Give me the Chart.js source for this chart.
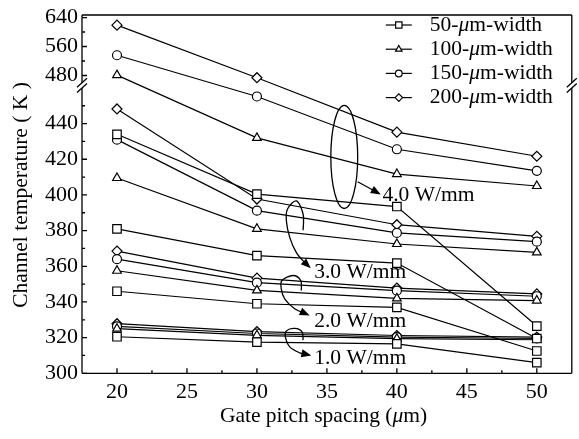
<!DOCTYPE html>
<html><head><meta charset="utf-8">
<script src="https://cdn.jsdelivr.net/npm/chart.js@4/dist/chart.umd.min.js"></script>
<style>html,body{margin:0;padding:0;background:#fff;overflow:hidden}</style>
</head><body>
<canvas id="c" width="579" height="439" style="display:block;width:579px;height:439px"></canvas>
<script>
// ---------------- data ----------------
const pitchSpacing = [20, 30, 40, 50];
const powerLevels = ['4.0 W/mm', '3.0 W/mm', '2.0 W/mm', '1.0 W/mm'];
const widthLabels = ['50', '100', '150', '200'];
// rows: 4.0, 3.0, 2.0, 1.0 W/mm ; columns: pitch 20, 30, 40, 50 um
const temp50um = [
  [434, 400.5, 393.5, 326.5],
  [381, 366, 361.8, 319.5],
  [346, 339, 337, 312.5],
  [320.5, 317.5, 316.5, 306]
];
const temp100um = [
  [481, 432, 411.7, 405],
  [409.5, 381, 372.5, 367.8],
  [357.5, 346.5, 342, 340.8],
  [325, 321.3, 319.4, 318.8]
];
const temp150um = [
  [535.9, 455.2, 425.6, 413.5],
  [431, 391.2, 378.7, 373.8],
  [364, 350.8, 346.3, 343.2],
  [326.3, 322.3, 320.3, 319.5]
];
const temp200um = [
  [619, 473.8, 435.2, 421.7],
  [448.2, 397.7, 383.3, 376.8],
  [368.5, 353.4, 347.8, 344.5],
  [327.8, 323.4, 321.2, 320.3]
];
const yMajorTicks = [300, 320, 340, 360, 380, 400, 420, 440, 480, 560, 640];
const yMinorTicks = [310, 330, 350, 370, 390, 410, 430, 450, 520, 600];
const xMajorTicks = [20, 25, 30, 35, 40, 45, 50];
const xMinorTicks = [22.5, 27.5, 32.5, 37.5, 42.5, 47.5];

// ---------------- styling ----------------
const FONT = '"Liberation Serif", "Times New Roman", serif';
const yBreak = { lowMin: 300, lowMax: 460, highMin: 460, highMax: 647, lowFrac: 0.7965, highFrac: 0.811 };
const markerStyles = [
  { pointStyle: 'rect', radius: 6 },
  { pointStyle: 'triangle', radius: 5 },
  { pointStyle: 'circle', radius: 4.5 },
  { pointStyle: 'rectRot', radius: 5 }
];
const seriesTemps = [temp50um, temp100um, temp150um, temp200um];

// annotations (anchored in data units; shapes in pixel offsets)
const ellipse40 = { xMin: 35.28, xMax: 37.2, yMin: 392.4, yMax: 450.2 };
const arrow40 = { from: [37.2, 407.4], to: [38.85, 400.3] };
const powerTextAnchors = [[38.97, 396.8], [34.09, 353.2], [34.09, 326], [34.09, 305.2]];
const hookTips = [null, [33.85, 358.9], [33.77, 332.4], [33.89, 310]];
const hookShapes = [null,
  [[-7.7,-38],[-7.7,-54],[-14.4,-67.3],[-23.4,-59],[-24.4,-47.3],[-21,-30.6],[-14.4,-15.6],[-6,-5.6],[0,0]],
  [[-8.4,-25],[-9,-35],[-16.7,-40],[-27.7,-35],[-28.4,-26.7],[-25,-16.7],[-15,-6.7],[0,0]],
  [[-8.3,-15.3],[-9.3,-23.6],[-16.6,-27],[-25,-24.6],[-26,-18.6],[-21.6,-8.6],[-11.6,-2.6],[0,0]]
];

// ---------------- broken y scale ----------------
class BrokenLinearScale extends Chart.LinearScale {
  getPixelForValue(value) {
    if (value === null || value === undefined || isNaN(value)) return NaN;
    const b = yBreak;
    let dec;
    if (value <= b.lowMax) dec = (value - b.lowMin) / (b.lowMax - b.lowMin) * b.lowFrac;
    else dec = b.highFrac + (value - b.highMin) / (b.highMax - b.highMin) * (1 - b.highFrac);
    return this.getPixelForDecimal(dec);
  }
  getValueForPixel(pixel) {
    const b = yBreak;
    const dec = this.getDecimalForPixel(pixel);
    if (dec <= b.lowFrac) return b.lowMin + dec / b.lowFrac * (b.lowMax - b.lowMin);
    return b.highMin + (dec - b.highFrac) / (1 - b.highFrac) * (b.highMax - b.highMin);
  }
  buildTicks() { return yMajorTicks.map(v => ({ value: v })); }
}
BrokenLinearScale.id = 'brokenLinear';
BrokenLinearScale.defaults = Chart.LinearScale.defaults;
Chart.register(BrokenLinearScale);

// ---------------- datasets ----------------
const datasets = [];
seriesTemps.forEach((rows, wi) => {
  rows.forEach((vals, pi) => {
    datasets.push({
      label: widthLabels[wi] + '-μm-width',
      data: pitchSpacing.map((x, i) => ({ x: x, y: vals[i] })),
      borderColor: '#000', borderWidth: 1.2,
      pointStyle: markerStyles[wi].pointStyle,
      pointRadius: markerStyles[wi].radius,
      pointHoverRadius: markerStyles[wi].radius,
      pointBackgroundColor: '#fff', pointBorderColor: '#000', pointBorderWidth: 1.2,
      tension: 0, fill: false
    });
  });
});

function drawRuns(ctx, runs, x, y, size, align) {
  const fontOf = r => (r.italic ? 'italic ' : '') + size + 'px ' + FONT;
  let total = 0;
  runs.forEach(r => { ctx.font = fontOf(r); total += ctx.measureText(r.t).width; });
  let cx = align === 'center' ? x - total / 2 : x;
  ctx.textAlign = 'left';
  runs.forEach(r => { ctx.font = fontOf(r); ctx.fillText(r.t, cx, y); cx += ctx.measureText(r.t).width; });
}

function smoothPath(ctx, pts) {
  ctx.moveTo(pts[0][0], pts[0][1]);
  for (let i = 0; i < pts.length - 1; i++) {
    const p0 = pts[Math.max(i - 1, 0)], p1 = pts[i], p2 = pts[i + 1], p3 = pts[Math.min(i + 2, pts.length - 1)];
    const c1 = [p1[0] + (p2[0] - p0[0]) / 6, p1[1] + (p2[1] - p0[1]) / 6];
    const c2 = [p2[0] - (p3[0] - p1[0]) / 6, p2[1] - (p3[1] - p1[1]) / 6];
    ctx.bezierCurveTo(c1[0], c1[1], c2[0], c2[1], p2[0], p2[1]);
  }
}
function arrowHead(ctx, fx, fy, tx, ty) {
  const a = Math.atan2(ty - fy, tx - fx), L = 10, W = 4;
  ctx.beginPath();
  ctx.moveTo(tx, ty);
  ctx.lineTo(tx - L * Math.cos(a) + W * Math.sin(a), ty - L * Math.sin(a) - W * Math.cos(a));
  ctx.lineTo(tx - L * Math.cos(a) - W * Math.sin(a), ty - L * Math.sin(a) + W * Math.cos(a));
  ctx.closePath(); ctx.fill();
}

const decor = {
  id: 'decor',
  afterDatasetsDraw(chart) {
    const ctx = chart.ctx, ca = chart.chartArea;
    const xs = chart.scales.x, ys = chart.scales.y;
    ctx.save();
    ctx.strokeStyle = '#000'; ctx.fillStyle = '#000'; ctx.lineWidth = 1.3;
    const yLowTop = ys.getPixelForValue(yBreak.lowMax);          // lower segment end
    const yHighBot = ys.getPixelForDecimal(yBreak.highFrac);     // upper segment start
    // frame
    ctx.beginPath();
    ctx.moveTo(ca.left, ca.bottom); ctx.lineTo(ca.right, ca.bottom);
    ctx.moveTo(ca.left, ca.top); ctx.lineTo(ca.right, ca.top);
    [ca.left, ca.right].forEach(x => {
      ctx.moveTo(x, ca.bottom); ctx.lineTo(x, yLowTop);
      ctx.moveTo(x, yHighBot); ctx.lineTo(x, ca.top);
    });
    ctx.stroke();
    // break marks
    ctx.beginPath();
    [ca.left, ca.right].forEach(x => {
      [yHighBot, yLowTop].forEach(y => { ctx.moveTo(x - 5, y + 4.5); ctx.lineTo(x + 5, y - 4.5); });
    });
    ctx.stroke();
    // ticks (inward)
    ctx.beginPath();
    yMajorTicks.forEach(v => { const y = ys.getPixelForValue(v); ctx.moveTo(ca.left, y); ctx.lineTo(ca.left + 5, y); });
    yMinorTicks.forEach(v => { const y = ys.getPixelForValue(v); ctx.moveTo(ca.left, y); ctx.lineTo(ca.left + 3, y); });
    xMajorTicks.forEach(v => { const x = xs.getPixelForValue(v); ctx.moveTo(x, ca.bottom); ctx.lineTo(x, ca.bottom - 5); });
    xMinorTicks.forEach(v => { const x = xs.getPixelForValue(v); ctx.moveTo(x, ca.bottom); ctx.lineTo(x, ca.bottom - 3); });
    ctx.stroke();

    // ellipse + arrow for 4.0 W/mm
    const ex1 = xs.getPixelForValue(ellipse40.xMin), ex2 = xs.getPixelForValue(ellipse40.xMax);
    const ey1 = ys.getPixelForValue(ellipse40.yMax), ey2 = ys.getPixelForValue(ellipse40.yMin);
    ctx.beginPath();
    ctx.ellipse((ex1 + ex2) / 2, (ey1 + ey2) / 2, (ex2 - ex1) / 2, (ey2 - ey1) / 2, 0, 0, Math.PI * 2);
    ctx.stroke();
    const fx = xs.getPixelForValue(arrow40.from[0]), fy = ys.getPixelForValue(arrow40.from[1]);
    const tx = xs.getPixelForValue(arrow40.to[0]), ty = ys.getPixelForValue(arrow40.to[1]);
    ctx.beginPath(); ctx.moveTo(fx, fy); ctx.lineTo(tx - 6 * (tx - fx) / Math.hypot(tx - fx, ty - fy), ty - 6 * (ty - fy) / Math.hypot(tx - fx, ty - fy)); ctx.stroke();
    arrowHead(ctx, fx, fy, tx, ty);
    // hooks
    for (let i = 1; i < 4; i++) {
      const hx = xs.getPixelForValue(hookTips[i][0]), hy = ys.getPixelForValue(hookTips[i][1]);
      const pts = hookShapes[i].map(p => [hx + p[0], hy + p[1]]);
      const n = pts.length;
      const last = pts[n - 1], prev = pts[n - 2];
      const d = Math.hypot(last[0] - prev[0], last[1] - prev[1]);
      const trimmed = pts.slice(0, n - 1).concat([[last[0] - 6 * (last[0] - prev[0]) / d, last[1] - 6 * (last[1] - prev[1]) / d]]);
      ctx.beginPath(); smoothPath(ctx, trimmed); ctx.stroke();
      arrowHead(ctx, prev[0], prev[1], last[0], last[1]);
    }
    // power labels
    ctx.textBaseline = 'alphabetic';
    powerLevels.forEach((t, i) => {
      const px = xs.getPixelForValue(powerTextAnchors[i][0]), py = ys.getPixelForValue(powerTextAnchors[i][1]);
      drawRuns(ctx, [{ t: t }], px, py, 21.5, 'left');
    });

    // legend
    for (let i = 0; i < 4; i++) {
      const ly = 25 + i * 24.2;
      const lx0 = ca.right - 186, lx1 = ca.right - 160, mx = ca.right - 173;
      ctx.lineWidth = 1.2;
      ctx.beginPath(); ctx.moveTo(lx0, ly); ctx.lineTo(lx1, ly); ctx.stroke();
      ctx.fillStyle = '#fff';
      Chart.helpers.drawPoint(ctx, { pointStyle: markerStyles[i].pointStyle, radius: markerStyles[i].radius * 0.75, rotation: 0, borderWidth: 1.1 }, mx, ly);
      ctx.fillStyle = '#000';
      drawRuns(ctx, [{ t: widthLabels[i] + '-' }, { t: 'μ', italic: true }, { t: 'm-width' }], ca.right - 142, ly + 5.8, 21.5, 'left');
    }

    // axis titles
    drawRuns(ctx, [{ t: 'Gate pitch spacing (' }, { t: 'μ', italic: true }, { t: 'm)' }], 323.5, 422, 21.5, 'center');
    ctx.translate(27, 195);
    ctx.rotate(-Math.PI / 2);
    drawRuns(ctx, [{ t: 'Channel temperature ( K )' }], 0, 0, 21.5, 'center');
    ctx.restore();
  }
};

new Chart(document.getElementById('c'), {
  type: 'line',
  data: { datasets: datasets },
  options: {
    responsive: false, animation: false, devicePixelRatio: 1, events: [],
    layout: { padding: { top: 11.7, right: 3, left: 0, bottom: 0 } },
    plugins: { legend: { display: false }, tooltip: { enabled: false } },
    scales: {
      x: {
        type: 'linear', min: 17.5, max: 52.5,
        grid: { display: false, drawTicks: false }, border: { display: false },
        afterBuildTicks: s => { s.ticks = xMajorTicks.map(v => ({ value: v })); },
        afterFit: s => { s.height = 65.7; },
        ticks: { color: '#000', padding: 8, font: { family: FONT, size: 22, lineHeight: 1 }, maxRotation: 0, autoSkip: false, callback: v => String(v) }
      },
      y: {
        type: 'brokenLinear', min: yBreak.lowMin, max: yBreak.highMax,
        grid: { display: false, drawTicks: false }, border: { display: false },
        afterFit: s => { s.width = 82; },
        ticks: { color: '#000', padding: 4, font: { family: FONT, size: 22, lineHeight: 1 }, autoSkip: false, callback: v => String(v) }
      }
    }
  },
  plugins: [decor]
});
</script>
</body></html>
